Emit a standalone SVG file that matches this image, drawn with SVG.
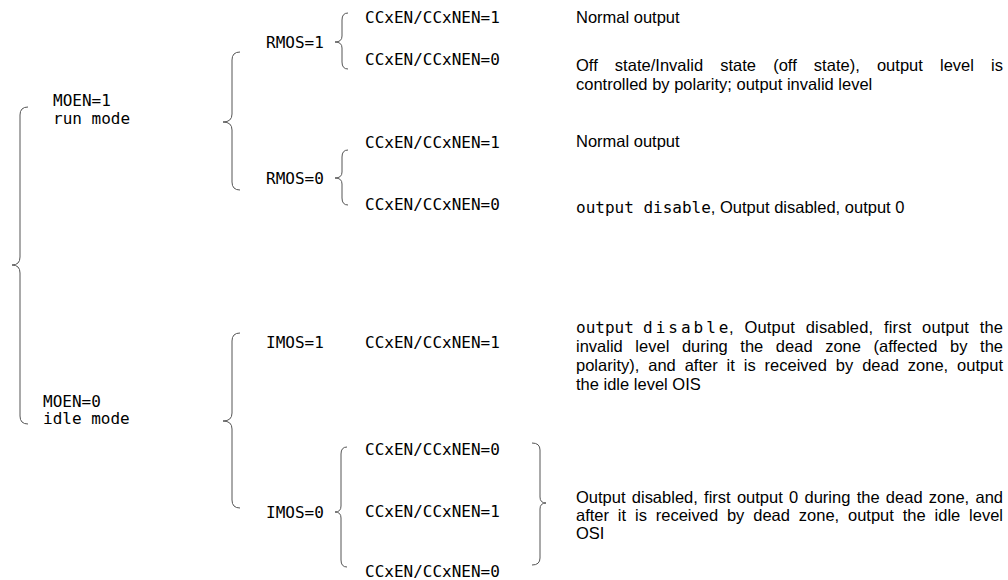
<svg xmlns="http://www.w3.org/2000/svg" width="1008" height="580" viewBox="0 0 1008 580">
<style>
.m{font-family:"DejaVu Sans Mono","Liberation Mono",monospace;font-size:16px;fill:#000}
.s{font-family:"Liberation Sans",Arial,sans-serif;font-size:16.5px;fill:#000}
.b{fill:none;stroke:#555;stroke-width:1}
</style>
<rect width="1008" height="580" fill="#fff"/>
<g id="connectors">
<path class="b" d="M28,107 Q20,107 20,115 L20,257 Q20,265 12,265 Q20,265 20,273 L20,416 Q20,424 28,424"/>
<path class="b" d="M240,52 Q232,52 232,60 L232,114 Q232,122 223,122 Q232,122 232,130 L232,182 Q232,190 240,190"/>
<path class="b" d="M240,333 Q232,333 232,341 L232,413 Q232,421 223,421 Q232,421 232,429 L232,500 Q232,508 240,508"/>
<path class="b" d="M348,13 Q342,13 342,20 L342,36 Q342,42 335,42 Q342,42 342,48 L342,62 Q342,69 348,69"/>
<path class="b" d="M348,150 Q342,150 342,157 L342,172 Q342,178 335,178 Q342,178 342,184 L342,198 Q342,205 348,205"/>
<path class="b" d="M347,447 Q341,447 341,454 L341,506 Q341,512 335,512 Q341,512 341,518 L341,560 Q341,567 347,567"/>
<path class="b" d="M532,443 Q540,443 540,450 L540,497 Q540,503 546,503 Q540,503 540,509 L540,558 Q540,565 532,565"/>
</g>
<g id="moen1"><text class="m" x="53" y="106">MOEN=1</text><text class="m" x="53" y="124">run mode</text></g>
<g id="moen0"><text class="m" x="43" y="407">MOEN=0</text><text class="m" x="43" y="424">idle mode</text></g>
<g id="rmos1"><text class="m" x="266" y="48">RMOS=1</text></g>
<g id="rmos0"><text class="m" x="266" y="184">RMOS=0</text></g>
<g id="imos1"><text class="m" x="266" y="348">IMOS=1</text></g>
<g id="imos0"><text class="m" x="266" y="518">IMOS=0</text></g>
<g id="cc1"><text class="m" x="365" y="23">CCxEN/CCxNEN=1</text></g>
<g id="cc2"><text class="m" x="365" y="65">CCxEN/CCxNEN=0</text></g>
<g id="cc3"><text class="m" x="365" y="148">CCxEN/CCxNEN=1</text></g>
<g id="cc4"><text class="m" x="365" y="210">CCxEN/CCxNEN=0</text></g>
<g id="cc5"><text class="m" x="365" y="348">CCxEN/CCxNEN=1</text></g>
<g id="cc6"><text class="m" x="365" y="455">CCxEN/CCxNEN=0</text></g>
<g id="cc7"><text class="m" x="365" y="517">CCxEN/CCxNEN=1</text></g>
<g id="cc8"><text class="m" x="365" y="577">CCxEN/CCxNEN=0</text></g>
<g id="desc1"><text class="s" x="576" y="23">Normal output</text></g>
<g id="desc2">
<text class="s" x="576" y="71" word-spacing="12.5" textLength="427" lengthAdjust="spacing">Off state/Invalid state (off state), output level is</text>
<text class="s" x="576" y="90">controlled by polarity; output invalid level</text>
</g>
<g id="desc3"><text class="s" x="576" y="147">Normal output</text></g>
<g id="desc4"><text x="576" y="213"><tspan class="m">output disable</tspan><tspan class="s">, Output disabled, output 0</tspan></text></g>
<g id="desc5">
<text x="576" y="333"><tspan class="m">output</tspan><tspan class="m" x="643" letter-spacing="3">disable</tspan><tspan class="s" x="729" word-spacing="6" textLength="274" lengthAdjust="spacing">, Output disabled, first output the</tspan></text>
<text class="s" x="576" y="352" word-spacing="8" textLength="427" lengthAdjust="spacing">invalid level during the dead zone (affected by the</text>
<text class="s" x="576" y="371" word-spacing="4.3" textLength="427" lengthAdjust="spacing">polarity), and after it is received by dead zone, output</text>
<text class="s" x="576" y="390">the idle level OIS</text>
</g>
<g id="desc6">
<text class="s" x="576" y="503" word-spacing="1.7" textLength="427" lengthAdjust="spacing">Output disabled, first output 0 during the dead zone, and</text>
<text class="s" x="576" y="521" word-spacing="4.3" textLength="427" lengthAdjust="spacing">after it is received by dead zone, output the idle level</text>
<text class="s" x="576" y="539">OSI</text>
</g>
</svg>
